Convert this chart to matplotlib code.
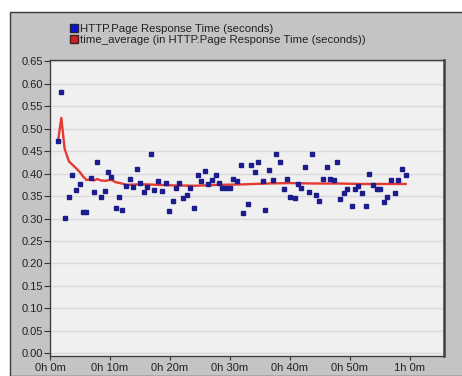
import matplotlib

matplotlib.use("Agg")
import matplotlib.pyplot as plt
from matplotlib.lines import Line2D
from matplotlib.patches import Rectangle

# ============================================================================
# Data, time in minutes
# ============================================================================

resp_time_min = [
    1.33, 1.89, 2.44, 3.17, 3.72, 4.28, 4.94, 5.5, 6.06, 6.78,
    7.33, 7.89, 8.44, 9.11, 9.67, 10.22, 10.94, 11.5, 12.0, 12.72,
    13.28, 13.83, 14.56, 15.06, 15.67, 16.2, 16.83, 17.39, 18.06, 18.6,
    19.28, 19.89, 20.44, 21.0, 21.56, 22.2, 22.78, 23.33, 24.06, 24.6,
    25.17, 25.83, 26.4, 26.94, 27.6, 28.17, 28.7, 29.28, 30.0, 30.56,
    31.2, 31.78, 32.2, 33.0, 33.56, 34.1, 34.67, 35.44, 35.9, 36.44,
    37.17, 37.72, 38.28, 38.94, 39.5, 40.06, 40.78, 41.33, 41.89, 42.56,
    43.11, 43.67, 44.33, 44.89, 45.44, 46.17, 46.72, 47.28, 47.83, 48.39,
    49.0, 49.56, 50.28, 50.83, 51.39, 52.06, 52.61, 53.17, 53.89, 54.44,
    55.0, 55.67, 56.2, 56.78, 57.5, 58.06, 58.6, 59.28,
]
resp_time_sec = [
    0.472, 0.581, 0.301, 0.347, 0.397, 0.364, 0.377, 0.314, 0.314, 0.390,
    0.360, 0.425, 0.347, 0.362, 0.403, 0.392, 0.323, 0.347, 0.318, 0.373,
    0.388, 0.371, 0.411, 0.380, 0.360, 0.371, 0.444, 0.364, 0.383, 0.362,
    0.380, 0.316, 0.340, 0.367, 0.380, 0.345, 0.353, 0.369, 0.323, 0.397,
    0.383, 0.405, 0.377, 0.385, 0.397, 0.380, 0.367, 0.367, 0.367, 0.389,
    0.383, 0.420, 0.312, 0.333, 0.420, 0.403, 0.425, 0.383, 0.318, 0.407,
    0.386, 0.444, 0.425, 0.366, 0.389, 0.349, 0.345, 0.377, 0.369, 0.414,
    0.360, 0.444, 0.353, 0.340, 0.388, 0.415, 0.388, 0.385, 0.425, 0.343,
    0.358, 0.366, 0.329, 0.366, 0.373, 0.358, 0.329, 0.400, 0.375, 0.366,
    0.366, 0.336, 0.347, 0.386, 0.358, 0.386, 0.411, 0.397,
]

avg_time_min = [
    1.33, 1.89, 2.44, 3.17, 3.72, 4.28, 4.94, 5.5, 6.06, 6.78,
    7.33, 7.89, 8.44, 9.11, 10.22, 10.94, 12.0, 12.72, 14.56, 16.2,
    20.0, 24.0, 28.0, 32.0, 36.0, 40.0, 44.0, 48.0, 52.0, 56.0, 59.28,
]
avg_resp_sec = [
    0.472, 0.524, 0.455, 0.427, 0.420, 0.413, 0.404, 0.394, 0.386, 0.387,
    0.385, 0.388, 0.385, 0.384, 0.386, 0.381, 0.378, 0.375, 0.376, 0.376,
    0.374, 0.373, 0.375, 0.376, 0.378, 0.379, 0.378, 0.378, 0.377, 0.377,
    0.377,
]

x_ticks = [0, 10, 20, 30, 40, 50, 60]
x_tick_labels = ["0h 0m", "0h 10m", "0h 20m", "0h 30m", "0h 40m", "0h 50m", "1h 0m"]
y_ticks = [i * 0.05 for i in range(14)]

LABEL_POINTS = "HTTP.Page Response Time (seconds)"
LABEL_AVG = "time_average (in HTTP.Page Response Time (seconds))"

plt.rcParams["font.family"] = ["Liberation Sans", "DejaVu Sans"]

W, H = 462, 376
fig = plt.figure(figsize=(W / 100, H / 100), dpi=100, facecolor="white")

# gray panel behind the chart
fig.patches.append(
    Rectangle(
        (10 / W, 0), 1, 1 - 12 / H,
        transform=fig.transFigure, facecolor="#c4c4c4",
        edgecolor="#3a3a3a", linewidth=1.0, zorder=-5,
    )
)

ax = fig.add_axes([50 / W, 20 / H, (444 - 50) / W, (356 - 60) / H])
ax.set_zorder(2)
ax.set_facecolor("#f0f0f0")

ax.plot(avg_time_min, avg_resp_sec, color="#e43a32", linewidth=1.7, zorder=2)
ax.plot(
    resp_time_min, resp_time_sec, linestyle="none", marker="s",
    markersize=2.2, color="#1c1c8c", zorder=3,
)

ax.set_xlim(0, 65.67)
ax.set_ylim(-0.006, 0.653)
ax.set_xticks(x_ticks)
ax.set_xticklabels(x_tick_labels)
ax.set_yticks(y_ticks)
ax.set_yticklabels([f"{v:.2f}" for v in y_ticks])

ax.yaxis.grid(True, color="#dadada", linewidth=1.0)
ax.set_axisbelow(True)

for side in ["left", "bottom", "top"]:
    ax.spines[side].set_color("#404040")
    ax.spines[side].set_linewidth(1.0)
ax.spines["right"].set_color("#404040")
ax.spines["right"].set_linewidth(1.8)

ax.tick_params(axis="y", direction="out", length=4, width=0.8, pad=1,
               labelsize=8, colors="#333333", labelcolor="#222222")
ax.tick_params(axis="x", direction="out", length=3, width=0.8, pad=2,
               labelsize=8, colors="#333333", labelcolor="#222222")

handles = [
    Line2D([], [], linestyle="none", marker="s", markersize=5.5,
           markerfacecolor="#1010d0", markeredgecolor="#202040"),
    Line2D([], [], linestyle="none", marker="s", markersize=5.5,
           markerfacecolor="#d42020", markeredgecolor="#402020"),
]
fig.legend(
    handles, [LABEL_POINTS, LABEL_AVG],
    loc="upper left", bbox_to_anchor=(69 / W, 1 - 24 / H),
    frameon=False, fontsize=8.2, handlelength=0.8, handletextpad=0.2,
    labelspacing=0.1, borderpad=0, borderaxespad=0, labelcolor="#222222",
)

fig.savefig("out.png", dpi=100, facecolor=fig.get_facecolor())
